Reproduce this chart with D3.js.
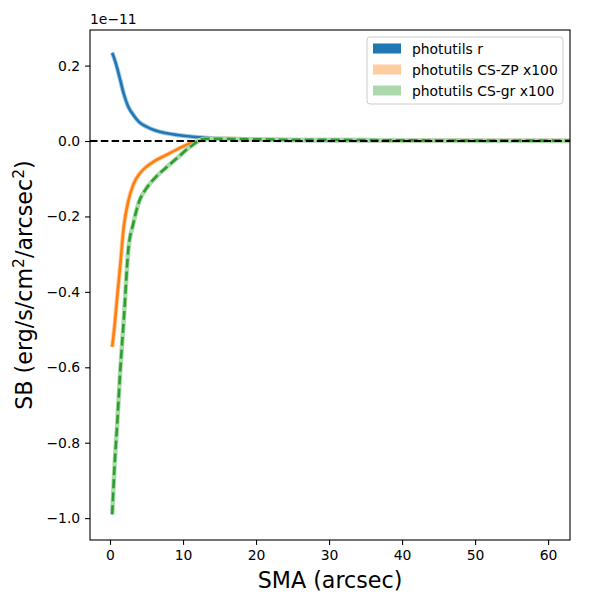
<!DOCTYPE html>
<html>
<head>
<meta charset="utf-8">
<script src="https://cdn.jsdelivr.net/npm/d3@7"></script>
<style>
  body { margin: 0; background: #fff; }
  svg { font-family: "DejaVu Sans", sans-serif; }
</style>
</head>
<body>
<div id="chart"></div>
<script>
// surface brightness profiles (units of 1e-11)
const sma = [0.3, 0.6, 1.0, 1.4, 1.9, 2.5, 3.2, 4.0, 5.0, 6.2, 7.6, 9.2, 11, 13, 15.5, 18.5, 22, 26, 31, 37, 44, 52, 61, 70];
const sbR = [0.234, 0.218, 0.192, 0.162, 0.124, 0.091, 0.069, 0.050, 0.038, 0.028, 0.021, 0.016, 0.012, 0.009, 0.006, 0.004, 0.003, 0.002, 0.0015, 0.001, 0.0007, 0.0005, 0.0003, 0.0002];
const sbZP = [-0.546, -0.495, -0.41, -0.33, -0.225, -0.16, -0.115, -0.088, -0.068, -0.052, -0.038, -0.022, -0.006, 0.004, 0.006, 0.005, 0.004, 0.003, 0.003, 0.002, 0.0015, 0.001, 0.001, 0.001];
const sbGR = [-0.99, -0.87, -0.745, -0.61, -0.47, -0.29, -0.218, -0.16, -0.125, -0.097, -0.072, -0.045, -0.015, 0.006, 0.006, 0.005, 0.004, 0.003, 0.003, 0.002, 0.0015, 0.001, 0.001, 0.001];

const labels = ["photutils r", "photutils CS-ZP x100", "photutils CS-gr x100"];
const xTicks = [0, 10, 20, 30, 40, 50, 60];
const yTicks = [0.2, 0.0, -0.2, -0.4, -0.6, -0.8, -1.0];

const width = 600, height = 600;
const margin = {top: 30, right: 30, bottom: 60, left: 90};
const iw = width - margin.left - margin.right;
const ih = height - margin.top - margin.bottom;

const svg = d3.select("#chart").append("svg")
    .attr("width", width)
    .attr("height", height);

const x = d3.scaleLinear().domain([-2.74, 63.0]).range([0, iw]);
const y = d3.scaleLinear().domain([-1.058, 0.2944]).range([ih, 0]);

const g = svg.append("g")
    .attr("transform", `translate(${margin.left},${margin.top})`);

g.append("clipPath").attr("id", "clip")
  .append("rect").attr("width", iw).attr("height", ih);

const fmt = d => d3.format(".1f")(d).replace("-", "\u2212");

// axes
const xAxis = g.append("g")
    .attr("transform", `translate(0,${ih})`)
    .call(d3.axisBottom(x).tickValues(xTicks).tickSize(4.9).tickPadding(4.9).tickFormat(d3.format("d")));
const yAxis = g.append("g")
    .call(d3.axisLeft(y).tickValues(yTicks).tickSize(4.9).tickPadding(4.9).tickFormat(fmt));

[xAxis, yAxis].forEach(a => {
    a.select(".domain").remove();
    a.selectAll("line").attr("stroke", "#000").attr("stroke-width", 1.1);
    a.selectAll("text").attr("fill", "#000").style("font-size", "13.9px").style("font-family", "DejaVu Sans");
});

const plot = g.append("g").attr("clip-path", "url(#clip)");

const series = [
    {vals: sbR, color: "#1f77b4", band: "#a5c9e1", dash: null},
    {vals: sbZP, color: "#ff7f0e", band: "#ffcc9f", dash: null},
    {vals: sbGR, color: "#2ca02c", band: "#abd9ab", dash: "9,4"}
];

series.forEach(s => {
    const line = d3.line()
        .x((d, i) => x(sma[i]))
        .y(d => y(d))
        .curve(d3.curveMonotoneX);
    plot.append("path")
        .attr("d", line(s.vals))
        .attr("fill", "none")
        .attr("stroke", s.band)
        .attr("stroke-width", 4.5);
    plot.append("path")
        .attr("d", line(s.vals))
        .attr("fill", "none")
        .attr("stroke", s.color)
        .attr("stroke-width", 2.6)
        .attr("stroke-dasharray", s.dash);
});

// zero line
plot.append("line")
    .attr("x1", 0).attr("x2", iw)
    .attr("y1", y(0)).attr("y2", y(0))
    .attr("stroke", "#000")
    .attr("stroke-width", 2)
    .attr("stroke-dasharray", "7.5,3.3");

// frame
g.append("rect")
    .attr("width", iw).attr("height", ih)
    .attr("fill", "none")
    .attr("stroke", "#000")
    .attr("stroke-width", 1.1);

// offset text
g.append("text")
    .attr("x", 0).attr("y", -6)
    .style("font-size", "13.9px")
    .text("1e\u221211");

// axis labels
svg.append("text")
    .attr("x", margin.left + iw / 2)
    .attr("y", 588)
    .attr("text-anchor", "middle")
    .style("font-size", "22.2px")
    .text("SMA (arcsec)");

const yl = svg.append("text")
    .attr("transform", `translate(32,${margin.top + ih / 2}) rotate(-90)`)
    .attr("text-anchor", "middle")
    .style("font-size", "22.2px");
yl.append("tspan").text("SB (erg/s/cm");
yl.append("tspan").attr("dy", -8).style("font-size", "15.5px").text("2");
yl.append("tspan").attr("dy", 8).text("/arcsec");
yl.append("tspan").attr("dy", -8).style("font-size", "15.5px").text("2");
yl.append("tspan").attr("dy", 8).text(")");

// legend
const lg = svg.append("g").attr("transform", "translate(367,37)");
lg.append("rect")
    .attr("width", 196).attr("height", 67)
    .attr("rx", 3)
    .attr("fill", "#fff").attr("fill-opacity", 0.8)
    .attr("stroke", "#cccccc").attr("stroke-width", 1);
const patchColors = ["#1f77b4", "#ffcc9f", "#abd9ab"];
labels.forEach((lab, i) => {
    lg.append("rect")
        .attr("x", 6).attr("y", 6.5 + i * 21)
        .attr("width", 28).attr("height", 10)
        .attr("fill", patchColors[i]);
    lg.append("text")
        .attr("x", 45).attr("y", 16.5 + i * 21)
        .style("font-size", "13.9px")
        .text(lab);
});
</script>
</body>
</html>
